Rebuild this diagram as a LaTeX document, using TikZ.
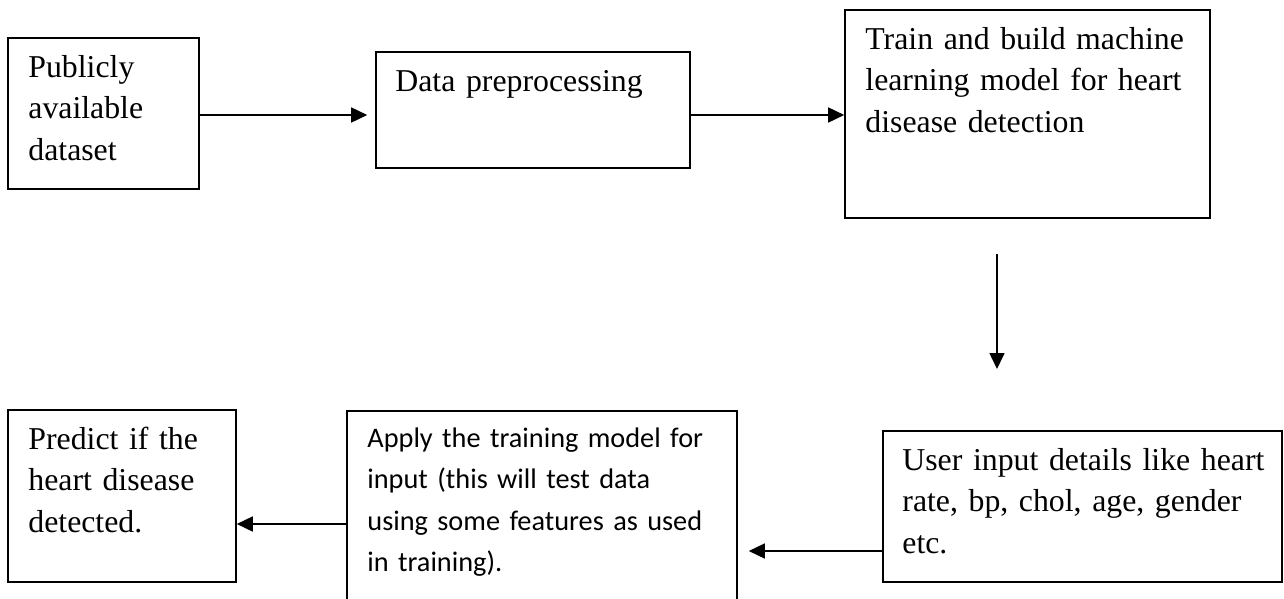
\documentclass[tikz,border=0pt]{standalone}
\usepackage{fontspec}
\setmainfont{Liberation Serif}
\newfontfamily\calibrifont{Carlito}
\usepackage{tikz}
\usetikzlibrary{positioning,calc,arrows.meta}
\definecolor{boxLine}{RGB}{0, 0, 0}
\newcommand{\firstline}[1]{\rule{0pt}{#1pt}}
\tikzset{
  stepbox/.style={draw=boxLine, line width=1.6pt, rectangle, inner sep=0pt},
  boxtext/.style={anchor=north west, inner sep=0pt, align=left, text width=370pt,
    font=\fontsize{31.8}{41.5}\selectfont},
  sanstext/.style={boxtext, font=\calibrifont\fontsize{28.3}{41.5}\selectfont},
  flow/.style={line width=1.6pt, -{Triangle[length=16pt,width=15pt]}}
}
\begin{document}
\begin{tikzpicture}[x=1pt,y=-1pt]
  \useasboundingbox (0,0) rectangle (1284,599);
  % Publicly available dataset
  \node[stepbox, minimum width=191pt, minimum height=151pt] (dataset) at (103.5,113.5) {};
  \node[boxtext] (datasetText) at ([xshift=21pt]dataset.north west) {\firstline{40}Publicly\\available\\dataset};
  % Data preprocessing
  \node[stepbox, minimum width=314pt, minimum height=116pt] (prep) at (533,110) {};
  \node[boxtext] (prepText) at ([xshift=20pt]prep.north west) {\firstline{40}Data preprocessing};
  % Train and build model
  \node[stepbox, minimum width=365pt, minimum height=208pt] (train) at (1027.5,114) {};
  \node[boxtext] (trainText) at ([xshift=21pt]train.north west) {\firstline{40}Train and build machine\\learning model for heart\\disease detection};
  % Predict
  \node[stepbox, minimum width=228pt, minimum height=172pt] (predict) at (122,496) {};
  \node[boxtext] (predictText) at ([xshift=21pt]predict.north west) {\firstline{40}Predict if the\\heart disease\\detected.};
  % Apply training model (runs off the bottom edge)
  \node[stepbox, minimum width=390pt, minimum height=199pt] (apply) at (542,510.5) {};
  \node[sanstext] (applyText) at ([xshift=21pt]apply.north west) {\firstline{37}Apply the training model for\\input (this will test data\\using some features as used\\in training).};
  % User input details
  \node[stepbox, minimum width=399pt, minimum height=151pt] (userin) at (1082.5,506.5) {};
  \node[boxtext] (userinText) at ([xshift=20pt]userin.north west) {\firstline{40}User input details like heart\\rate, bp, chol, age, gender\\etc.};
  % connectors
  \coordinate (downTop) at (997,254);
  \coordinate (downEnd) at (997,369);
  \draw[flow] (dataset.east |- 0,115) -- ([xshift=-8pt]prep.west |- 0,115);
  \draw[flow] (prep.east |- 0,115) -- (train.west |- 0,115);
  \draw[flow] (downTop) -- (downEnd);
  \draw[flow] (apply.west |- 0,524) -- (predict.east |- 0,524);
  \draw[flow] (userin.west |- 0,551) -- ([xshift=11pt]apply.east |- 0,551);
\end{tikzpicture}
\end{document}
